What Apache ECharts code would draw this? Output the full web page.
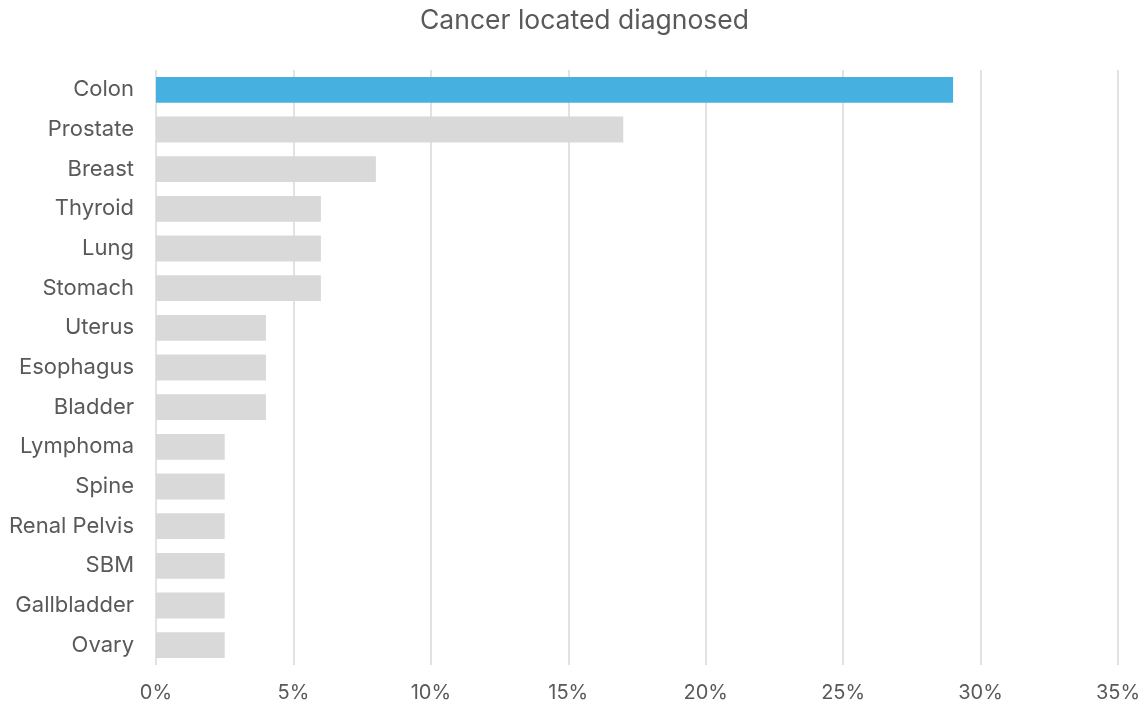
<!DOCTYPE html>
<html><head><meta charset="utf-8">
<script src="https://cdn.jsdelivr.net/npm/echarts@6/dist/echarts.min.js"></script>
<style>html,body{margin:0;padding:0;background:#fff}#c{width:1147px;height:709px}</style>
</head><body><div id="c"></div>
<script>
const categories = ["Colon","Prostate","Breast","Thyroid","Lung","Stomach","Uterus","Esophagus","Bladder","Lymphoma","Spine","Renal Pelvis","SBM","Gallbladder","Ovary"];
const values = [29, 17, 8, 6, 6, 6, 4, 4, 4, 2.5, 2.5, 2.5, 2.5, 2.5, 2.5];
const highlightCategory = "Colon";
const xTicks = [0, 5, 10, 15, 20, 25, 30, 35];

const font = "'Inter', 'Open Sans', sans-serif";
const chart = echarts.init(document.getElementById('c'), null, {renderer: 'canvas'});
chart.setOption({
  animation: false,
  title: {text: 'Cancer located diagnosed', left: 415, top: 3,
    textStyle: {fontFamily: font, fontSize: 26.5, fontWeight: 'normal', color: '#595959'}},
  grid: {left: 156, right: 29, top: 70, bottom: 44, containLabel: false},
  xAxis: {type: 'value', min: xTicks[0], max: xTicks[xTicks.length-1], interval: 5,
    axisLine: {show: false}, axisTick: {show: false},
    splitLine: {lineStyle: {color: '#d9d9d9', width: 1.5}},
    axisLabel: {formatter: v => v + '%', fontFamily: font, fontSize: 20, color: '#595959', margin: 18}},
  yAxis: {type: 'category', data: categories, inverse: true,
    axisLine: {show: false}, axisTick: {show: false},
    axisLabel: {fontFamily: font, fontSize: 22, color: '#595959', margin: 22}},
  series: [{type: 'bar', barCategoryGap: '35%',
    data: values.map((v, i) => ({value: v, itemStyle: {color: categories[i] === highlightCategory ? '#46B0E1' : '#D9D9D9'}}))}]
});
</script></body></html>
